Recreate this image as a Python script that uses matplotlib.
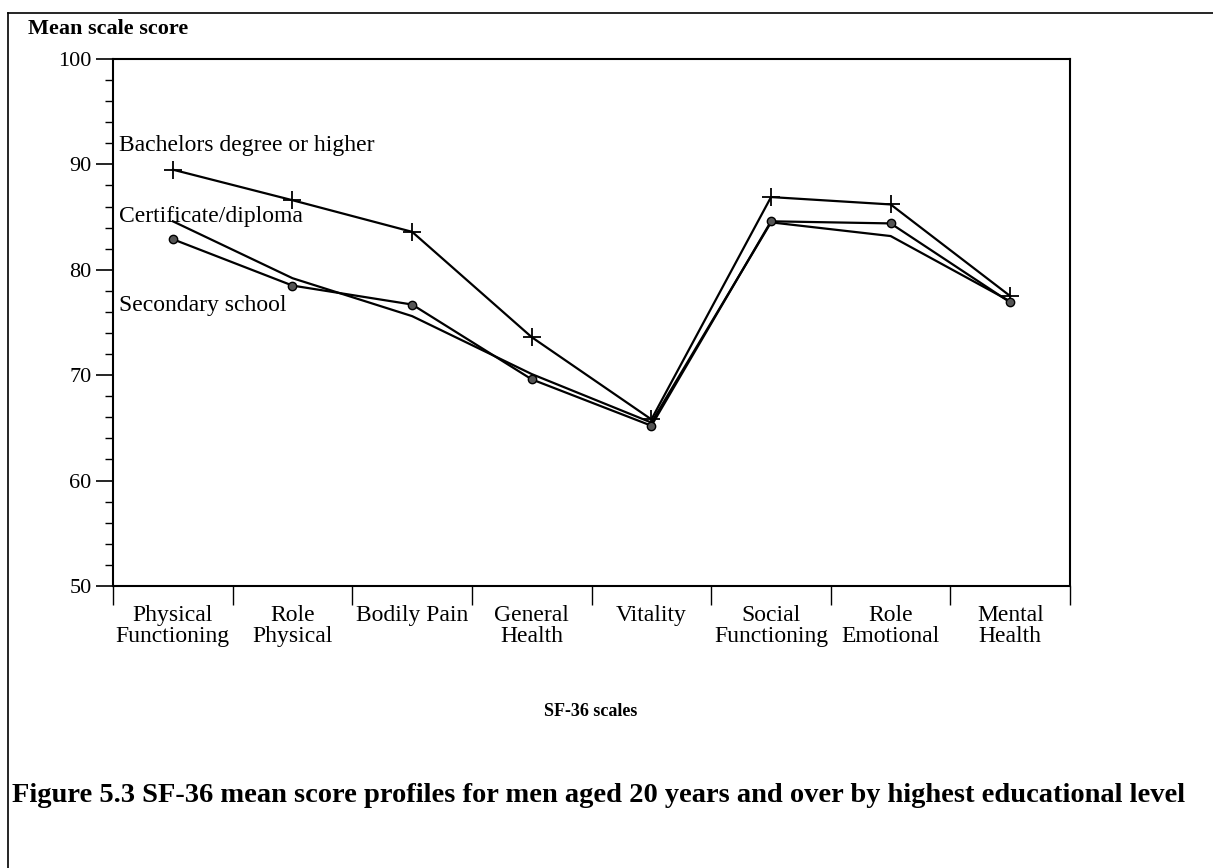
import numpy as np
import matplotlib.pyplot as plt
from matplotlib.lines import Line2D

plt.rcParams['font.family'] = ['Liberation Serif', 'DejaVu Serif']

scales = ['Physical\nFunctioning', 'Role\nPhysical', 'Bodily Pain', 'General\nHealth',
          'Vitality', 'Social\nFunctioning', 'Role\nEmotional', 'Mental\nHealth']
bachelors = [89.5, 86.6, 83.6, 73.6, 65.8, 86.9, 86.2, 77.5]
certificate = [84.6, 79.2, 75.6, 70.1, 65.5, 84.5, 83.2, 77.0]
secondary = [82.9, 78.5, 76.7, 69.6, 65.2, 84.6, 84.4, 76.9]

fig = plt.figure(figsize=(12.13, 8.68), dpi=100)
ax = fig.add_axes([0.0932, 0.325, 0.789, 0.607])

x = np.arange(len(scales))
ax.plot(x, bachelors, color='black', lw=1.6, marker='+', ms=13, mew=1.3)
ax.plot(x, certificate, color='black', lw=1.6)
ax.plot(x, secondary, color='black', lw=1.6, marker='o', ms=6,
        mfc='#555555', mec='black', mew=1)

ax.set_xlim(-0.5, 7.5)
ax.set_ylim(50, 100)
ax.set_yticks(np.arange(50, 101, 10))
ax.set_yticks(np.arange(50, 101, 2), minor=True)
ax.tick_params(axis='y', which='major', length=12, width=1.2, labelsize=16, direction='out')
ax.tick_params(axis='y', which='minor', length=6, width=1, direction='out')

ax.set_xticks(x)
ax.set_xticklabels(scales, fontsize=17, linespacing=0.95)
ax.set_xticks(np.arange(-0.5, 8, 1), minor=True)
ax.tick_params(axis='x', which='major', length=0, pad=14)
ax.tick_params(axis='x', which='minor', length=14, width=1, direction='out')

for s in ax.spines.values():
    s.set_linewidth(1.5)

ax.text(-0.45, 91.8, 'Bachelors degree or higher', fontsize=17, va='center')
ax.text(-0.45, 85.1, 'Certificate/diploma', fontsize=17, va='center')
ax.text(-0.45, 76.6, 'Secondary school', fontsize=17, va='center')

fig.text(0.023, 0.967, 'Mean scale score', fontsize=16, fontweight='bold', va='center')
fig.text(0.487, 0.18, 'SF-36 scales', fontsize=13, fontweight='bold', ha='center', va='center')
fig.text(0.01, 0.083, 'Figure 5.3 SF-36 mean score profiles for men aged 20 years and over by highest educational level',
         fontsize=20.5, fontweight='bold', va='center')

fig.add_artist(Line2D([0.007, 1.0], [0.985, 0.985], color='black', lw=1.2))
fig.add_artist(Line2D([0.007, 0.007], [0.0, 0.985], color='black', lw=1.2))

fig.savefig('out.png', dpi=100)
